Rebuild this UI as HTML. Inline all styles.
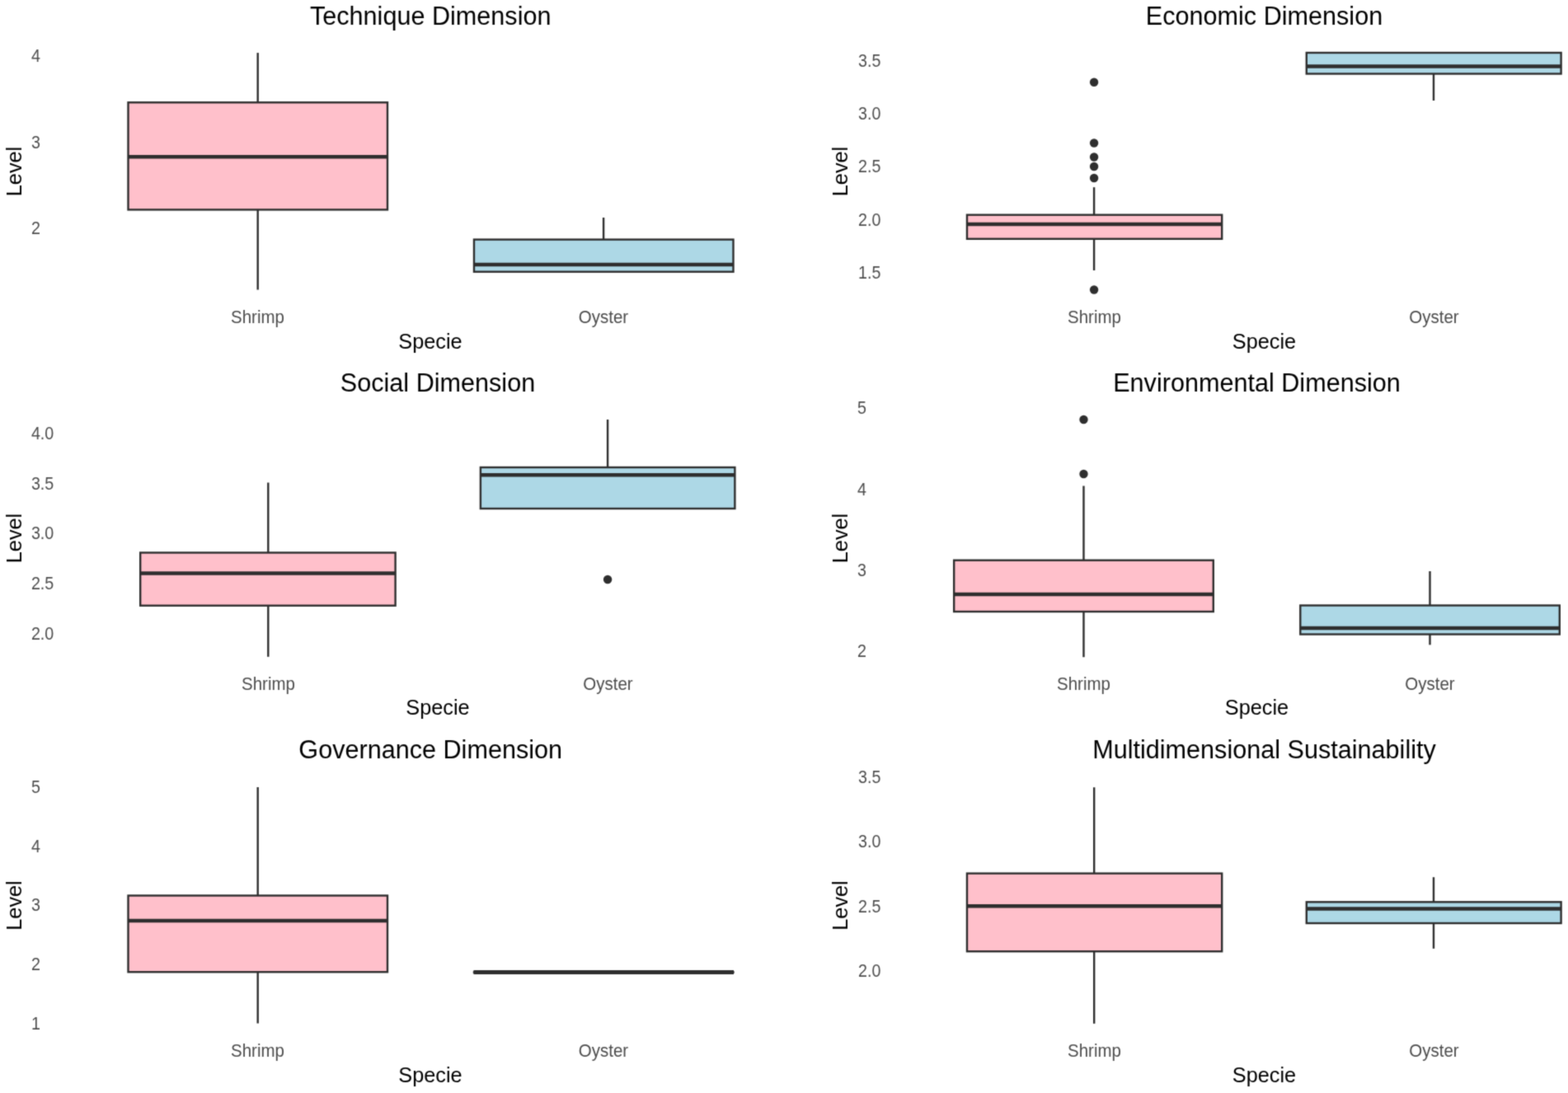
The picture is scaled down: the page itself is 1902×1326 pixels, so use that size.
<!DOCTYPE html>
<html lang="en">
<head>
<meta charset="utf-8">
<title>Sustainability dimensions by specie</title>
<style>
html,body{margin:0;padding:0;background:#fff;}
body{width:1902px;height:1326px;overflow:hidden;}
svg{display:block;font-family:"Liberation Sans", sans-serif;}
.t{font-size:30.6px;fill:#000;text-anchor:middle;}
.a{font-size:25.3px;fill:#000;text-anchor:middle;}
.y{font-size:19.7px;fill:#4D4D4D;text-anchor:end;}
.x{font-size:20.5px;fill:#4D4D4D;text-anchor:middle;}
.b{stroke:#2e2e2e;stroke-width:2.4;stroke-linejoin:miter;}
.w{stroke:#2e2e2e;stroke-width:2.4;fill:none;stroke-linecap:butt;}
.m{stroke:#2e2e2e;stroke-width:4.5;fill:none;stroke-linecap:butt;}
.o{fill:#2e2e2e;stroke:none;}
</style>
</head>
<body>
<svg width="1902" height="1326" viewBox="0 0 1902 1326" role="img" aria-label="Boxplots of sustainability level by specie for six dimensions">
<defs><filter id="soft" x="0" y="0" width="1902" height="1326" filterUnits="userSpaceOnUse" color-interpolation-filters="sRGB"><feConvolveMatrix order="3" kernelMatrix="1 4 1 4 16 4 1 4 1" divisor="36" edgeMode="duplicate" preserveAlpha="false"/></filter></defs>
<rect x="0" y="0" width="1902" height="1326" fill="#ffffff"/>
<g filter="url(#soft)">
<g>
<text class="t" transform="translate(522.2 30)">Technique Dimension</text>
<text class="y" transform="translate(49 75) scale(1 1.09)">4</text>
<text class="y" transform="translate(49 180) scale(1 1.09)">3</text>
<text class="y" transform="translate(49 284) scale(1 1.09)">2</text>
<text class="a" transform="translate(26 208) rotate(-90)">Level</text>
<line class="w" x1="312.7" y1="64.1" x2="312.7" y2="124.3"/>
<line class="w" x1="312.7" y1="254.4" x2="312.7" y2="351.5"/>
<rect class="b" x="155.5" y="124.3" width="314.5" height="130.1" fill="#FFC0CB"/>
<line class="m" x1="155.5" y1="190.3" x2="470" y2="190.3"/>
<line class="w" x1="732.1" y1="264" x2="732.1" y2="290.6"/>
<rect class="b" x="575" y="290.6" width="314.5" height="39.1" fill="#ADD8E6"/>
<line class="m" x1="575" y1="321.05" x2="889.5" y2="321.05"/>
<text class="x" transform="translate(312.5 392) scale(1 1.05)">Shrimp</text>
<text class="x" transform="translate(732 392) scale(1 1.05)">Oyster</text>
<text class="a" transform="translate(522 423)">Specie</text>
</g>
<g>
<text class="t" transform="translate(1533.5 30)">Economic Dimension</text>
<text class="y" transform="translate(1068.5 81) scale(1 1.09)">3.5</text>
<text class="y" transform="translate(1068.5 145) scale(1 1.09)">3.0</text>
<text class="y" transform="translate(1068.5 209) scale(1 1.09)">2.5</text>
<text class="y" transform="translate(1068.5 274) scale(1 1.09)">2.0</text>
<text class="y" transform="translate(1068.5 338) scale(1 1.09)">1.5</text>
<text class="a" transform="translate(1028.3 208) rotate(-90)">Level</text>
<circle class="o" cx="1327.1" cy="99.8" r="5.2"/>
<circle class="o" cx="1327.1" cy="173.5" r="5.2"/>
<circle class="o" cx="1327.1" cy="190.5" r="5.2"/>
<circle class="o" cx="1327.1" cy="202" r="5.2"/>
<circle class="o" cx="1327.1" cy="216" r="5.2"/>
<circle class="o" cx="1327.1" cy="351.5" r="5.2"/>
<line class="w" x1="1327.1" y1="227.2" x2="1327.1" y2="260.7"/>
<line class="w" x1="1327.1" y1="289.8" x2="1327.1" y2="328"/>
<rect class="b" x="1173" y="260.7" width="309.2" height="29.1" fill="#FFC0CB"/>
<line class="m" x1="1173" y1="272.1" x2="1482.2" y2="272.1"/>
<line class="w" x1="1739" y1="89.5" x2="1739" y2="122"/>
<rect class="b" x="1584.8" y="64" width="308.8" height="25.5" fill="#ADD8E6"/>
<line class="m" x1="1584.8" y1="80.4" x2="1893.6" y2="80.4"/>
<text class="x" transform="translate(1327.5 392) scale(1 1.05)">Shrimp</text>
<text class="x" transform="translate(1739.5 392) scale(1 1.05)">Oyster</text>
<text class="a" transform="translate(1533.5 423)">Specie</text>
</g>
<g>
<text class="t" transform="translate(531 475)">Social Dimension</text>
<text class="y" transform="translate(65.3 533) scale(1 1.09)">4.0</text>
<text class="y" transform="translate(65.3 594) scale(1 1.09)">3.5</text>
<text class="y" transform="translate(65.3 654) scale(1 1.09)">3.0</text>
<text class="y" transform="translate(65.3 715) scale(1 1.09)">2.5</text>
<text class="y" transform="translate(65.3 776) scale(1 1.09)">2.0</text>
<text class="a" transform="translate(26 653) rotate(-90)">Level</text>
<circle class="o" cx="737.1" cy="703" r="5.2"/>
<line class="w" x1="325.3" y1="585.5" x2="325.3" y2="670.5"/>
<line class="w" x1="325.3" y1="734.7" x2="325.3" y2="796.8"/>
<rect class="b" x="170.2" y="670.5" width="309.4" height="64.2" fill="#FFC0CB"/>
<line class="m" x1="170.2" y1="695.6" x2="479.6" y2="695.6"/>
<line class="w" x1="737.1" y1="509" x2="737.1" y2="567"/>
<rect class="b" x="582.9" y="567" width="308.5" height="50" fill="#ADD8E6"/>
<line class="m" x1="582.9" y1="576.2" x2="891.4" y2="576.2"/>
<text class="x" transform="translate(325.5 837) scale(1 1.05)">Shrimp</text>
<text class="x" transform="translate(737.5 837) scale(1 1.05)">Oyster</text>
<text class="a" transform="translate(531 867)">Specie</text>
</g>
<g>
<text class="t" transform="translate(1524.5 475)">Environmental Dimension</text>
<text class="y" transform="translate(1051 502) scale(1 1.09)">5</text>
<text class="y" transform="translate(1051 601) scale(1 1.09)">4</text>
<text class="y" transform="translate(1051 699) scale(1 1.09)">3</text>
<text class="y" transform="translate(1051 797) scale(1 1.09)">2</text>
<text class="a" transform="translate(1028.3 653) rotate(-90)">Level</text>
<circle class="o" cx="1314.5" cy="509" r="5.2"/>
<circle class="o" cx="1314.5" cy="575" r="5.2"/>
<line class="w" x1="1314.5" y1="589.5" x2="1314.5" y2="679.7"/>
<line class="w" x1="1314.5" y1="742" x2="1314.5" y2="797.2"/>
<rect class="b" x="1157.2" y="679.7" width="314.6" height="62.3" fill="#FFC0CB"/>
<line class="m" x1="1157.2" y1="721" x2="1471.8" y2="721"/>
<line class="w" x1="1734.5" y1="693" x2="1734.5" y2="734.5"/>
<line class="w" x1="1734.5" y1="769.5" x2="1734.5" y2="782.3"/>
<rect class="b" x="1577.3" y="734.5" width="314.5" height="35" fill="#ADD8E6"/>
<line class="m" x1="1577.3" y1="762" x2="1891.8" y2="762"/>
<text class="x" transform="translate(1314.5 837) scale(1 1.05)">Shrimp</text>
<text class="x" transform="translate(1734.5 837) scale(1 1.05)">Oyster</text>
<text class="a" transform="translate(1524.5 867)">Specie</text>
</g>
<g>
<text class="t" transform="translate(522.2 920)">Governance Dimension</text>
<text class="y" transform="translate(49 962) scale(1 1.09)">5</text>
<text class="y" transform="translate(49 1034) scale(1 1.09)">4</text>
<text class="y" transform="translate(49 1105) scale(1 1.09)">3</text>
<text class="y" transform="translate(49 1177) scale(1 1.09)">2</text>
<text class="y" transform="translate(49 1249) scale(1 1.09)">1</text>
<text class="a" transform="translate(26 1098.5) rotate(-90)">Level</text>
<line class="w" x1="312.7" y1="955" x2="312.7" y2="1086.5"/>
<line class="w" x1="312.7" y1="1179.2" x2="312.7" y2="1241.5"/>
<rect class="b" x="155.5" y="1086.5" width="314.5" height="92.7" fill="#FFC0CB"/>
<line class="m" x1="155.5" y1="1117" x2="470" y2="1117"/>
<line class="w" x1="573.8" y1="1179.5" x2="890.7" y2="1179.5"/>
<line class="m" style="stroke-width:5.1" x1="574.5" y1="1179.5" x2="890" y2="1179.5"/>
<text class="x" transform="translate(312.5 1282) scale(1 1.05)">Shrimp</text>
<text class="x" transform="translate(732 1282) scale(1 1.05)">Oyster</text>
<text class="a" transform="translate(522 1313)">Specie</text>
</g>
<g>
<text class="t" transform="translate(1533.5 920)">Multidimensional Sustainability</text>
<text class="y" transform="translate(1068.5 950) scale(1 1.09)">3.5</text>
<text class="y" transform="translate(1068.5 1028) scale(1 1.09)">3.0</text>
<text class="y" transform="translate(1068.5 1107) scale(1 1.09)">2.5</text>
<text class="y" transform="translate(1068.5 1185) scale(1 1.09)">2.0</text>
<text class="a" transform="translate(1028.3 1098.5) rotate(-90)">Level</text>
<line class="w" x1="1327.2" y1="955.2" x2="1327.2" y2="1059.6"/>
<line class="w" x1="1327.2" y1="1154.2" x2="1327.2" y2="1241.8"/>
<rect class="b" x="1173" y="1059.6" width="309.2" height="94.6" fill="#FFC0CB"/>
<line class="m" x1="1173" y1="1099.3" x2="1482.2" y2="1099.3"/>
<line class="w" x1="1739" y1="1064.2" x2="1739" y2="1094.3"/>
<line class="w" x1="1739" y1="1120" x2="1739" y2="1150.8"/>
<rect class="b" x="1584.8" y="1094.3" width="308.8" height="25.7" fill="#ADD8E6"/>
<line class="m" x1="1584.8" y1="1102.6" x2="1893.6" y2="1102.6"/>
<text class="x" transform="translate(1327.5 1282) scale(1 1.05)">Shrimp</text>
<text class="x" transform="translate(1739.5 1282) scale(1 1.05)">Oyster</text>
<text class="a" transform="translate(1533.5 1313)">Specie</text>
</g>
</g>
</svg>
</body>
</html>
